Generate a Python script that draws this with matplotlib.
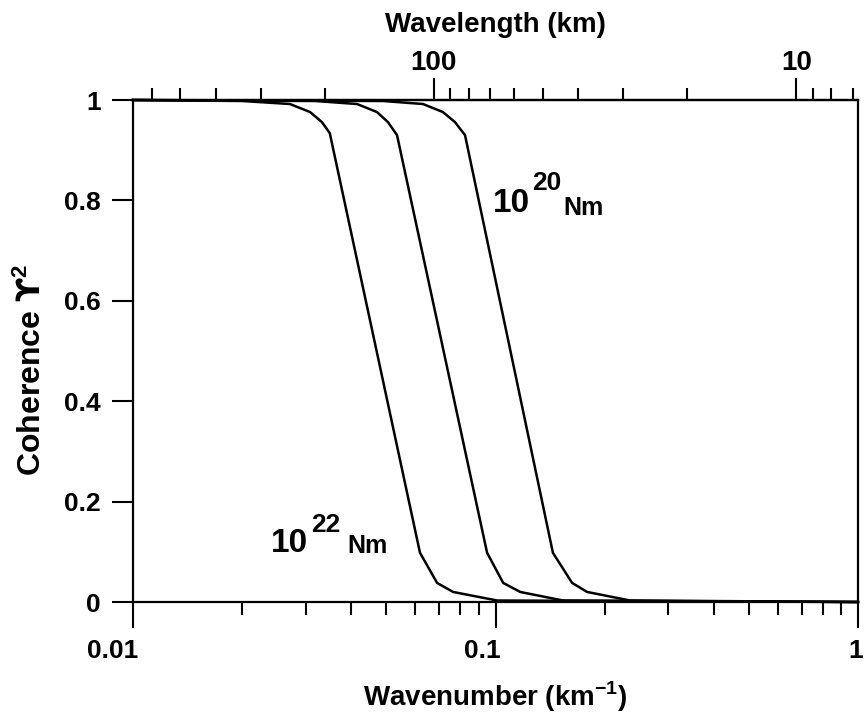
import matplotlib
matplotlib.use("Agg")
import matplotlib.pyplot as plt
import matplotlib.transforms as mtransforms
from matplotlib.ticker import NullFormatter

plt.rcParams['font.family'] = ['Liberation Sans', 'DejaVu Sans']
plt.rcParams['font.weight'] = 'bold'
plt.rcParams['axes.labelweight'] = 'bold'
plt.rcParams['mathtext.fontset'] = 'custom'
plt.rcParams['mathtext.rm'] = 'Liberation Sans:bold'
plt.rcParams['mathtext.bf'] = 'Liberation Sans:bold'
plt.rcParams['mathtext.sf'] = 'DejaVu Sans'

# coherence curves (wavenumber km^-1, coherence)
k_22 = [0.01, 0.02, 0.0271, 0.0308, 0.0332, 0.0349, 0.0619, 0.069, 0.0764, 0.101, 1.0]
coh_22 = [1.0, 0.998, 0.992, 0.976, 0.956, 0.934, 0.098, 0.038, 0.020, 0.003, 0.0]
k_21 = [0.01, 0.0318, 0.0415, 0.0471, 0.0505, 0.0535, 0.0948, 0.105, 0.117, 0.1535, 1.0]
coh_21 = [1.0, 0.998, 0.992, 0.976, 0.956, 0.930, 0.098, 0.038, 0.020, 0.003, 0.0]
k_20 = [0.01, 0.049, 0.0631, 0.0716, 0.0773, 0.0824, 0.144, 0.1627, 0.179, 0.235, 1.0]
coh_20 = [1.0, 0.998, 0.992, 0.976, 0.956, 0.930, 0.098, 0.038, 0.020, 0.003, 0.0]

y_ticks = [0, 0.2, 0.4, 0.6, 0.8, 1]
y_labels = ['0', '0.2', '0.4', '0.6', '0.8', '1']
x_ticks = [0.01, 0.1, 1]
x_labels = ['0.01', '0.1', '1']

# top axis: wavelength, lambda = C / k
C = 6.76
lam_major = [100, 10]
lam_major_labels = ['100', '10']
lam_minor = [600, 500, 400, 300, 200, 90, 80, 70, 60, 50, 40, 30, 20, 9, 8, 7]

fig = plt.figure(figsize=(8.64, 7.22), dpi=100)
ax = fig.add_axes([133/864, 1 - 602/722, 725/864, 502/722])

for k, c in [(k_22, coh_22), (k_21, coh_21), (k_20, coh_20)]:
    ax.plot(k, c, color='black', lw=1.8, clip_on=False, zorder=3)

ax.set_xscale('log')
ax.set_xlim(0.01, 1)
ax.set_ylim(0, 1)

for s in ax.spines.values():
    s.set_linewidth(1.6)

ax.set_yticks(y_ticks, labels=y_labels)
ax.set_xticks(x_ticks, labels=x_labels)
ax.xaxis.set_minor_formatter(NullFormatter())
ax.tick_params(axis='y', which='major', direction='out', length=15, width=1.5,
               pad=8, labelsize=19, right=False)
ax.tick_params(axis='x', which='major', direction='out', length=18.5, width=1.5,
               pad=8, labelsize=19, top=False)
ax.tick_params(axis='x', which='minor', direction='out', length=9.5, width=1.5, top=False)

# bottom labels sit a little left of their ticks
off = mtransforms.ScaledTranslation(0.055, 0, fig.dpi_scale_trans)
for lab in ax.get_xticklabels():
    lab.set_ha('right')
    lab.set_transform(lab.get_transform() + off)

ax.set_xlabel('Wavenumber (km$^{\\mathbf{-1}}$)', fontsize=20, labelpad=12)
ax.set_ylabel('Coherence $\\mathsf{\u03d2}^{\\mathbf{2}}$', fontsize=23)
ax.yaxis.set_label_coords(-0.118, 0.462)

secax = ax.secondary_xaxis('top', functions=(lambda k: C / k, lambda l: C / l))
secax.set_xticks(lam_major, labels=lam_major_labels)
secax.set_xticks(lam_minor, minor=True)
secax.xaxis.set_minor_formatter(NullFormatter())
secax.tick_params(which='major', direction='out', length=16, width=1.5, pad=1, labelsize=20)
secax.tick_params(which='minor', direction='out', length=8.6, width=1.5)
secax.spines['top'].set_linewidth(1.6)
secax.set_xlabel('Wavelength (km)', fontsize=20, labelpad=13)

# curve labels
ax.text(0.190, 0.0996, '10', transform=ax.transAxes, fontsize=24, ha='left', va='baseline')
ax.text(0.245, 0.139, '22', transform=ax.transAxes, fontsize=19, ha='left', va='baseline')
ax.text(0.296, 0.0976, 'Nm', transform=ax.transAxes, fontsize=18, ha='left', va='baseline')
ax.text(0.4966, 0.777, '10', transform=ax.transAxes, fontsize=24, ha='left', va='baseline')
ax.text(0.551, 0.821, '20', transform=ax.transAxes, fontsize=19, ha='left', va='baseline')
ax.text(0.594, 0.771, 'Nm', transform=ax.transAxes, fontsize=18, ha='left', va='baseline')

fig.savefig('out.png', dpi=100)
